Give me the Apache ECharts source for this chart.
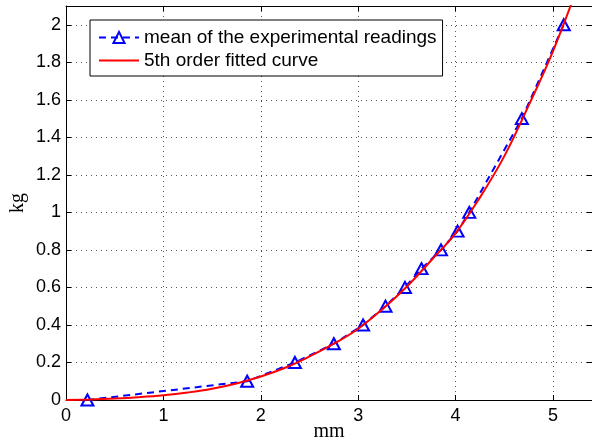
<!DOCTYPE html>
<html><head><meta charset="utf-8">
<script src="https://cdn.jsdelivr.net/npm/echarts@6/dist/echarts.min.js"></script>
<style>html,body{margin:0;padding:0;background:#fff}#c{width:592px;height:439px}</style>
</head><body><div id="c"></div>
<script>
const expX = [0.22, 1.86, 2.35, 2.75, 3.05, 3.28, 3.48, 3.65, 3.85, 4.02, 4.14, 4.68, 5.11];
const expY = [0, 0.1, 0.2, 0.3, 0.4, 0.5, 0.6, 0.7, 0.8, 0.9, 1.0, 1.5, 2.0];
const fitX = [0, 0.25, 0.5, 0.75, 1, 1.25, 1.5, 1.75, 2, 2.25, 2.5, 2.75, 3, 3.25, 3.5, 3.75, 4, 4.25, 4.5, 4.75, 5, 5.25];
const fitY = [0, 0.003, 0.008, 0.015, 0.025, 0.04, 0.06, 0.088, 0.125, 0.172, 0.232, 0.30, 0.38, 0.485, 0.605, 0.745, 0.89, 1.08, 1.30, 1.57, 1.86, 2.2];
const xTicks = [0, 1, 2, 3, 4, 5];
const yTicks = [0, 0.2, 0.4, 0.6, 0.8, 1, 1.2, 1.4, 1.6, 1.8, 2];
const names = ['mean of the experimental readings', '5th order fitted curve'];

const chart = echarts.init(document.getElementById('c'));
const lab = {color:'#000', fontFamily:'Liberation Sans', fontSize:18};
const split = {show:true, lineStyle:{color:'#555', type:[1,4], width:1}};
chart.setOption({
  animation:false,
  backgroundColor:'#fff',
  grid:{left:66, right:0, top:6, bottom:39, show:false, containLabel:false, outerBoundsMode:'none'},
  legend:{
    orient:'vertical', left:90, top:20, itemWidth:40, itemHeight:14, itemGap:4,
    padding:[8,6,6,8],
    backgroundColor:'#fff', borderColor:'#000', borderWidth:1,
    textStyle:{color:'#000', fontFamily:'Liberation Sans', fontSize:19},
    data:[names[0], {name:names[1], itemStyle:{opacity:0}}]
  },
  xAxis:[{
    type:'value', min:0, max:5.4, interval:1,
    name:'mm', nameLocation:'middle', nameGap:22, nameMoveOverlap:false,
    nameTextStyle:{fontFamily:'Liberation Serif', fontSize:20, color:'#000'},
    axisLine:{onZero:false, lineStyle:{color:'#000', width:1}},
    axisTick:{inside:true, length:5, lineStyle:{color:'#000'}},
    axisLabel:Object.assign({margin:7, showMaxLabel:false, formatter:v=>xTicks.includes(v)?String(v):''}, lab),
    splitLine:split
  },{
    type:'value', min:0, max:5.4, interval:1, position:'top',
    axisLine:{onZero:false, lineStyle:{color:'#000', width:1}},
    axisTick:{inside:true, length:5, lineStyle:{color:'#000'}},
    axisLabel:{show:false}, splitLine:{show:false}
  }],
  yAxis:[{
    type:'value', min:0, max:2.1, interval:0.2,
    name:'kg', nameLocation:'middle', nameGap:38, nameMoveOverlap:false,
    nameTextStyle:{fontFamily:'Liberation Serif', fontSize:20, color:'#000'},
    axisLine:{show:true, onZero:false, lineStyle:{color:'#000', width:1}},
    axisTick:{show:true, inside:true, length:5, lineStyle:{color:'#000'}},
    axisLabel:Object.assign({margin:5, showMaxLabel:false, formatter:v=>{const r=Math.round(v*10)/10; return yTicks.some(t=>Math.abs(t-v)<1e-9)?String(r):'';}}, lab),
    splitLine:split
  },{
    type:'value', min:0, max:2.1, interval:0.2, position:'right',
    axisLine:{show:true, onZero:false, lineStyle:{color:'#000'}},
    axisTick:{show:true, inside:true, length:5, lineStyle:{color:'#000'}},
    axisLabel:{show:false}, splitLine:{show:false}
  }],
  series:[{
    name:names[0], type:'line',
    data:expX.map((x,i)=>[x, expY[i]]),
    symbol:'triangle', symbolSize:[12,11], showAllSymbol:true,
    itemStyle:{color:'rgba(0,0,0,0)', borderColor:'#0000ff', borderWidth:2},
    lineStyle:{color:'#0000ff', width:2, type:[7,5]},
    z:2
  },{
    name:names[1], type:'line',
    data:fitX.map((x,i)=>[x, fitY[i]]),
    smooth:0.4, symbol:'none', clip:true,
    itemStyle:{color:'#ff0000'},
    lineStyle:{color:'#ff0000', width:2},
    z:3
  }]
});
</script></body></html>
